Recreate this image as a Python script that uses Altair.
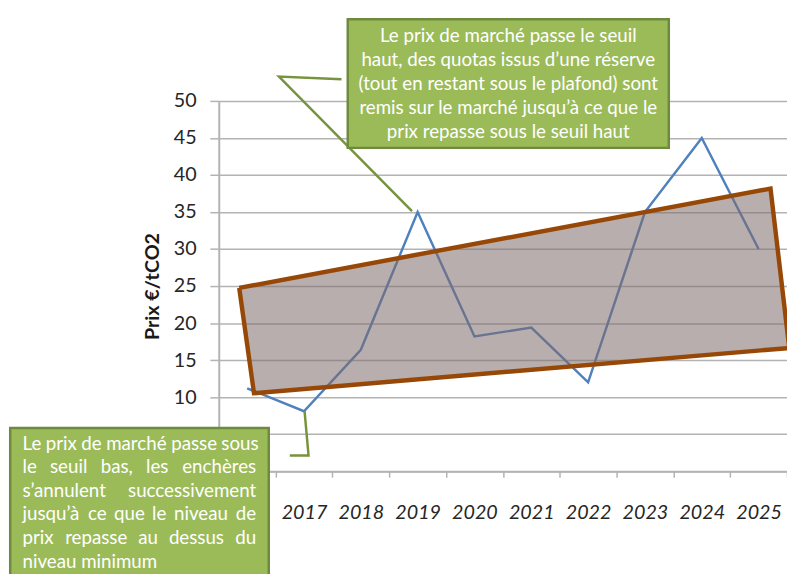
import altair as alt
import pandas as pd

# ---------------- data ----------------
years = ["2016", "2017", "2018", "2019", "2020", "2021", "2022", "2023", "2024", "2025"]
prices = [11.2, 8.1, 16.4, 35.0, 18.2, 19.4, 12.0, 35.0, 45.0, 30.0]
y_ticks = [0, 5, 10, 15, 20, 25, 30, 35, 40, 45, 50]

# price corridor (x in year-index units, y in €/tCO2): TL, BL, BR, TR
corridor_x = [-0.14, 0.12, 9.54, 9.21]
corridor_y = [24.75, 10.53, 16.64, 38.17]

# callout pointers (x in year-index units, y in €/tCO2)
ptr_top_x = [1.66, 0.56, 2.90]
ptr_top_y = [52.93, 53.28, 35.11]
ptr_bot_x = [1.01, 1.08, 0.75]
ptr_bot_y = [8.11, 2.13, 2.13]

# callout boxes
box_x = [1.77, -4.17]
box_x2 = [7.42, 0.38]
box_y = [61.04, 5.85]
box_y2 = [43.66, -20.0]

top_lines = [
    "Le prix de marché passe le seuil",
    "haut, des quotas issus d’une réserve",
    "(tout en restant sous le plafond) sont",
    "remis sur le marché jusqu’à ce que le",
    "prix repasse sous le seuil haut",
]
bot_lines = [
    "Le prix de marché passe sous",
    "le seuil bas, les enchères",
    "s’annulent successivement",
    "jusqu’à ce que le niveau de",
    "prix repasse au dessus du",
    "niveau minimum",
]

# ---------------- layout constants ----------------
W = 577
H = 376
FONT = "Lato"
TXT_SIZE = 19
X_DOM = [-0.5, 9.5]
UNIT_PX = W / 10.0

GREEN = "#9BBB59"
GREEN_DARK = "#6E8B3D"
PTR = "#77933C"
BROWN = "#974806"
GRID = "#B3B3B3"

# ---------------- derived tables ----------------
df_line = pd.DataFrame({"year": years, "price": prices})


def on_edge(p, q, x):
    (x0, y0), (x1, y1) = p, q
    return y0 + (y1 - y0) * (x - x0) / (x1 - x0)


TL = (corridor_x[0], corridor_y[0])
BL = (corridor_x[1], corridor_y[1])
BR = (corridor_x[2], corridor_y[2])
TR = (corridor_x[3], corridor_y[3])
df_area = pd.DataFrame({
    "qx": [TL[0], BL[0], TR[0], BR[0]],
    "top": [TL[1], on_edge(TL, TR, BL[0]), TR[1], BR[1]],
    "bot": [TL[1], BL[1], on_edge(BL, BR, TR[0]), BR[1]],
})
df_outline = pd.DataFrame({
    "qx": [TL[0], TR[0], BR[0], BL[0], TL[0]],
    "price": [TL[1], TR[1], BR[1], BL[1], TL[1]],
    "ord": [0, 1, 2, 3, 4],
})
df_ptr = pd.DataFrame({
    "qx": ptr_top_x + ptr_bot_x,
    "price": ptr_top_y + ptr_bot_y,
    "seg": ["a"] * 3 + ["b"] * 3,
    "ord": [0, 1, 2, 0, 1, 2],
})
df_box = pd.DataFrame({"qx": box_x, "qx2": box_x2, "price": box_y, "price2": box_y2})

# top callout text: centred lines
top_cx = (box_x[0] + box_x2[0]) / 2
top_y0 = 58.78
line_step_top = 3.26
df_top_txt = pd.DataFrame({
    "qx": [top_cx] * len(top_lines),
    "price": [top_y0 - i * line_step_top for i in range(len(top_lines))],
    "t": top_lines,
})

# bottom callout text: justified, word by word
CW = {
    "i": 0.24, "l": 0.24, "j": 0.24, "’": 0.21, ",": 0.21, "t": 0.35, "f": 0.33,
    "r": 0.37, "s": 0.43, "c": 0.47, "e": 0.52, "é": 0.52, "è": 0.52, "a": 0.51,
    "à": 0.51, "m": 0.86, "w": 0.79, "v": 0.52, "x": 0.52, "L": 0.5, "q": 0.58,
}
SPACE = 0.2


def text_w(s):
    return sum(CW.get(ch, 0.58) for ch in s) * TXT_SIZE / UNIT_PX


bot_left = -3.954
bot_right = 0.159
bot_y0 = 3.72
line_step_bot = 3.19
rows = []
for li, line in enumerate(bot_lines):
    y = bot_y0 - li * line_step_bot
    words = line.split()
    if li == len(bot_lines) - 1 or len(words) == 1:
        rows.append({"qx": bot_left, "price": y, "t": line, "anchor": "left"})
        continue
    widths = [text_w(w) for w in words]
    nat_gap = SPACE * TXT_SIZE / UNIT_PX
    gap = (bot_right - bot_left - sum(widths)) / (len(words) - 1)
    stretched = gap >= nat_gap
    gap = max(gap, nat_gap)
    pos = bot_left
    for wi, (w, wd) in enumerate(zip(words, widths)):
        if wi == 0:
            rows.append({"qx": pos, "price": y, "t": w, "anchor": "left"})
        elif wi == len(words) - 1 and stretched:
            rows.append({"qx": bot_right, "price": y, "t": w, "anchor": "right"})
        else:
            rows.append({"qx": pos + wd / 2, "price": y, "t": w, "anchor": "center"})
        pos += wd + gap
df_bot_txt = pd.DataFrame(rows)

# ---------------- encodings ----------------
qx_scale = alt.Scale(domain=X_DOM, nice=False, zero=False)
y_scale = alt.Scale(domain=[0, 50], nice=False, zero=False)
Y_TITLE = "Prix €/tCO2"


def qx(field="qx"):
    return alt.X(f"{field}:Q", scale=qx_scale, axis=None)


def yq(field="price"):
    return alt.Y(f"{field}:Q", scale=y_scale, axis=None)


line = alt.Chart(df_line).mark_line(color="#4F81BD", strokeWidth=2.5).encode(
    x=alt.X(
        "year:O", sort=None, bandPosition=0.5,
        scale=alt.Scale(type="band", paddingInner=0, paddingOuter=0),
        axis=alt.Axis(
            title=None, labelAngle=0, tickBand="extent", grid=False,
            domainColor=GRID, domainWidth=2, tickColor=GRID, tickWidth=1.5, tickSize=6,
            labelFont=FONT, labelFontSize=20, labelFontStyle="italic", labelColor="#262626",
            labelBaseline="middle", labelPadding=36, labelOverlap=False,
            labelExpr="datum.label == '2016' ? '' : datum.label",
            zindex=0,
        ),
    ),
    y=alt.Y(
        "price:Q", scale=y_scale, title=Y_TITLE,
        axis=alt.Axis(
            values=y_ticks, grid=True, gridColor=GRID, gridWidth=1.5,
            domainColor=GRID, domainWidth=2, tickColor=GRID, tickWidth=1.5, tickSize=9,
            labelFont=FONT, labelFontSize=20, labelColor="#262626", labelPadding=14,
            labelOverlap=False, labelBound=False,
            labelExpr="datum.value < 10 ? '' : datum.label",
            titleFont=FONT, titleFontSize=20, titleFontWeight="bold", titleColor="#1a1a1a",
            titleX=-67, titleY=H / 2, titleAngle=270, titleAlign="center", titleBaseline="middle",
            zindex=0,
        ),
    ),
)

area = alt.Chart(df_area).mark_area(color="#806C6C", opacity=0.55).encode(
    x=qx(), y=yq("top"), y2="bot:Q"
)

outline = alt.Chart(df_outline).mark_line(
    color=BROWN, strokeWidth=4.5, strokeJoin="miter"
).encode(x=qx(), y=yq(), order="ord:Q")

pointers = alt.Chart(df_ptr).mark_line(color=PTR, strokeWidth=2.5).encode(
    x=qx(), y=yq(), detail="seg:N", order="ord:Q"
)

boxes = alt.Chart(df_box).mark_rect(
    fill=GREEN, stroke=GREEN_DARK, strokeWidth=2.5
).encode(x=qx(), x2="qx2:Q", y=yq(), y2="price2:Q")

top_txt = alt.Chart(df_top_txt).mark_text(
    font=FONT, fontSize=TXT_SIZE, color="white", align="center", baseline="middle"
).encode(x=qx(), y=yq(), text="t:N")


def bot_layer(anchor):
    return alt.Chart(df_bot_txt).transform_filter(
        alt.datum.anchor == anchor
    ).mark_text(
        font=FONT, fontSize=TXT_SIZE, color="white", align=anchor, baseline="middle"
    ).encode(x=qx(), y=yq(), text="t:N")


chart = alt.layer(
    line, area, outline, pointers, boxes, top_txt,
    bot_layer("left"), bot_layer("center"), bot_layer("right"),
).resolve_scale(x="independent", y="independent").properties(
    width=W, height=H,
    autosize=alt.AutoSizeParams(type="none"),
    padding={"left": 214, "top": 90, "right": 0, "bottom": 100},
    background="white",
).configure_view(strokeWidth=0)

chart.save("out.html", embed_options={"renderer": "svg", "actions": False})
